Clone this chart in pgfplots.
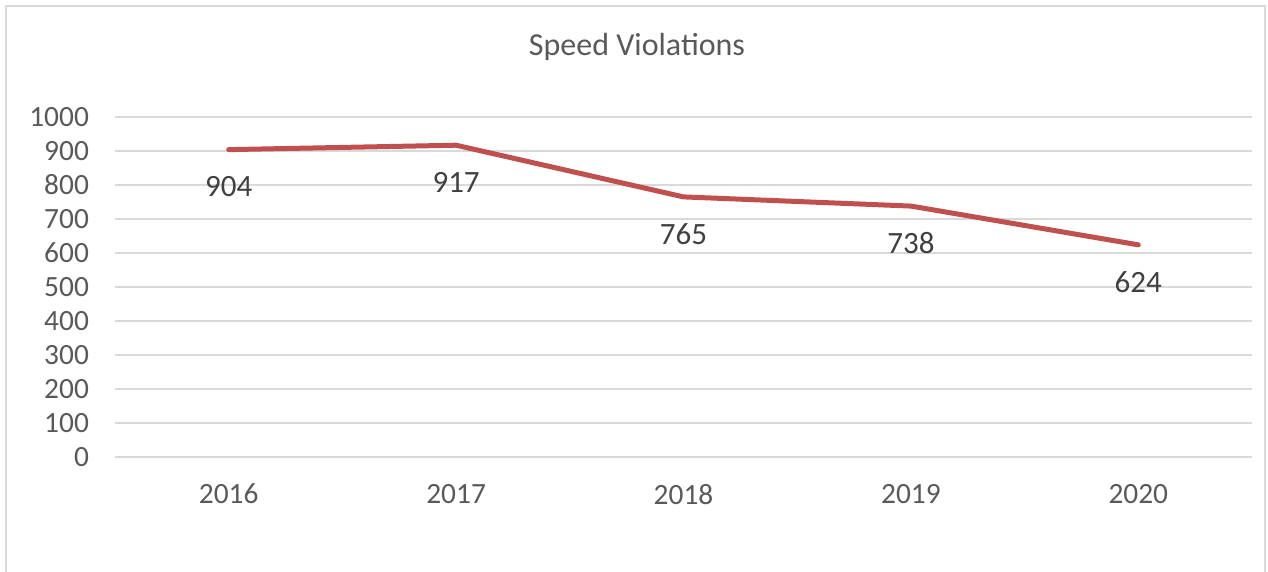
\documentclass[border=0pt]{standalone}
\usepackage{pgfplots}
\pgfplotsset{compat=1.18}
\usepackage{fontspec}
\setmainfont{Carlito}
\definecolor{linered}{HTML}{C0504D}
\definecolor{txt}{HTML}{595959}
\definecolor{gridc}{HTML}{D9D9D9}
\definecolor{framec}{HTML}{D9D9D9}
\begin{document}
\begin{tikzpicture}
\useasboundingbox (-57.5pt,-57.5pt) rectangle (576.5pt,228.5pt);
\draw[framec, line width=0.75pt] (-54.5pt,-60pt) -- (-54.5pt,225.5pt) -- (575pt,225.5pt) -- (575pt,-60pt);
\begin{axis}[
  at={(0,0)}, anchor=south west,
  scale only axis,
  width=568.5pt, height=170pt,
  xmin=-0.5, xmax=4.5,
  ymin=0, ymax=1000,
  ytick={0,100,...,1000},
  xtick={0,1,2,3,4},
  xticklabels={2016,2017,2018,2019,2020},
  axis line style={draw=none},
  major tick length=0pt,
  ymajorgrids=true, xmajorgrids=false,
  major grid style={gridc, line width=0.75pt},
  tick label style={font=\fontsize{14.7pt}{16pt}\selectfont, text=txt},
  /pgf/number format/assume math mode=true,
  /pgf/number format/1000 sep={},
  yticklabel style={xshift=-9.5pt},
  xticklabel style={yshift=-10pt},
  clip=false,
]
\addplot[linered, line width=2.5pt, line cap=round, line join=round,
  nodes near coords,
  every node near coord/.style={font=\fontsize{15.5pt}{17pt}\selectfont, text=black!75, anchor=center, yshift=-18.5pt},
] coordinates {(0,904) (1,917) (2,765) (3,738) (4,624)};
\end{axis}
\node[font=\fontsize{16pt}{18pt}\selectfont, text=txt] at (261pt,205pt) {Speed Violations};
\end{tikzpicture}
\end{document}
